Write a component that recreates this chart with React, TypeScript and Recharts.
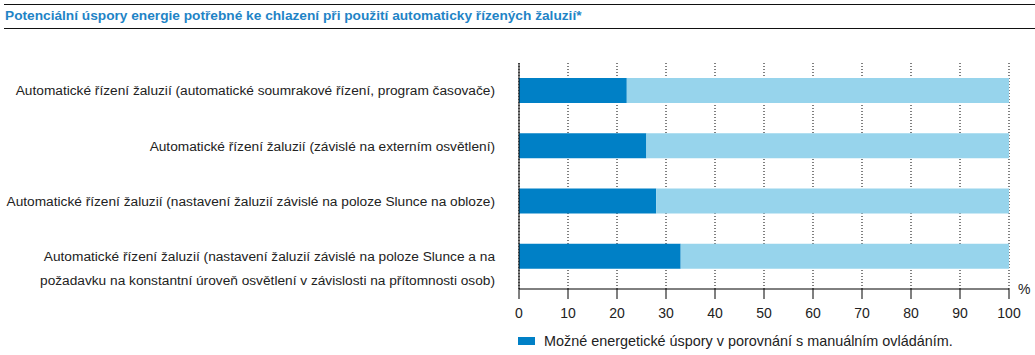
import { BarChart, Bar, XAxis, YAxis, CartesianGrid, Legend } from "recharts";

const categories = [
  "Automatické řízení žaluzií (automatické soumrakové řízení, program časovače)",
  "Automatické řízení žaluzií (závislé na externím osvětlení)",
  "Automatické řízení žaluzií (nastavení žaluzií závislé na poloze Slunce na obloze)",
  "Automatické řízení žaluzií (nastavení žaluzií závislé na poloze Slunce a na\npožadavku na konstantní úroveň osvětlení v závislosti na přítomnosti osob)",
];
const savings = [22, 26, 28, 33];
const xTicks = [0, 10, 20, 30, 40, 50, 60, 70, 80, 90, 100];
const seriesName = "Možné energetické úspory v porovnání s manuálním ovládáním.";

const data = categories.map((name, i) => ({
  name,
  savings: savings[i],
  rest: 100 - savings[i],
}));

const FONT = '"Liberation Sans", Arial, Helvetica, sans-serif';
const DARK = "#0080c6";
const LIGHT = "#97d4ec";
const TEXT = "#222";

function CategoryTick(props: any) {
  const { x, y, payload } = props;
  const lines = String(payload.value).split("\n");
  return (
    <text x={x} y={y} textAnchor="end" fill={TEXT} fontSize={13.7} fontFamily={FONT}>
      {lines.map((line, i) => (
        <tspan key={i} x={x} dy={i === 0 ? "0.355em" : 24}>
          {line}
        </tspan>
      ))}
    </text>
  );
}

function LegendContent() {
  return (
    <div style={{ display: "flex", alignItems: "center", fontFamily: FONT, fontSize: 14.4, color: TEXT, whiteSpace: "nowrap" }}>
      <span style={{ display: "inline-block", width: 17, height: 8, background: DARK, marginRight: 9 }} />
      <span>{seriesName}</span>
    </div>
  );
}

export default function App() {
  return (
    <div style={{ position: "absolute", left: 0, top: 0, width: 1035, height: 355, background: "#fff", fontFamily: FONT }}>
      <div
        style={{
          position: "absolute",
          left: 4,
          top: 4,
          width: 1031,
          height: 25,
          borderTop: "1.5px solid #111",
          borderBottom: "1.5px solid #111",
          boxSizing: "border-box",
          color: "#1f84c6",
          fontSize: 13.7,
          fontWeight: "bold",
          lineHeight: "22px",
          paddingLeft: 1,
          whiteSpace: "nowrap",
        }}
      >
        Potenciální úspory energie potřebné ke chlazení při použití automaticky řízených žaluzií*
      </div>
      <span style={{ position: "absolute", left: 1018, top: 281, fontSize: 14, color: TEXT }}>%</span>
      <div style={{ position: "absolute", left: 0, top: 0 }}>
        <BarChart
          width={1035}
          height={355}
          data={data}
          layout="vertical"
          margin={{ top: 63, right: 26, left: 0, bottom: 36 }}
          barSize={25}
        >
          <CartesianGrid horizontal={false} stroke="#000" strokeDasharray="1 2" />
          <XAxis
            type="number"
            domain={[0, 100]}
            ticks={xTicks}
            interval={0}
            height={30}
            axisLine={{ stroke: "#000" }}
            tickLine={{ stroke: "#000" }}
            tickSize={10}
            tickMargin={9}
            tick={{ fill: TEXT, fontSize: 14, fontFamily: FONT }}
          />
          <YAxis
            type="category"
            dataKey="name"
            width={519}
            axisLine={{ stroke: "#000" }}
            tickLine={false}
            tickSize={0}
            tickMargin={24}
            interval={0}
            padding={{ top: 0, bottom: 5 }}
            tick={<CategoryTick />}
          />
          <Legend
            layout="horizontal"
            verticalAlign="middle"
            wrapperStyle={{ position: "absolute", top: 333, left: 518, width: 500 }}
            content={<LegendContent />}
          />
          <Bar dataKey="savings" stackId="a" fill={DARK} name={seriesName} isAnimationActive={false} />
          <Bar dataKey="rest" stackId="a" fill={LIGHT} legendType="none" isAnimationActive={false} />
        </BarChart>
      </div>
    </div>
  );
}
